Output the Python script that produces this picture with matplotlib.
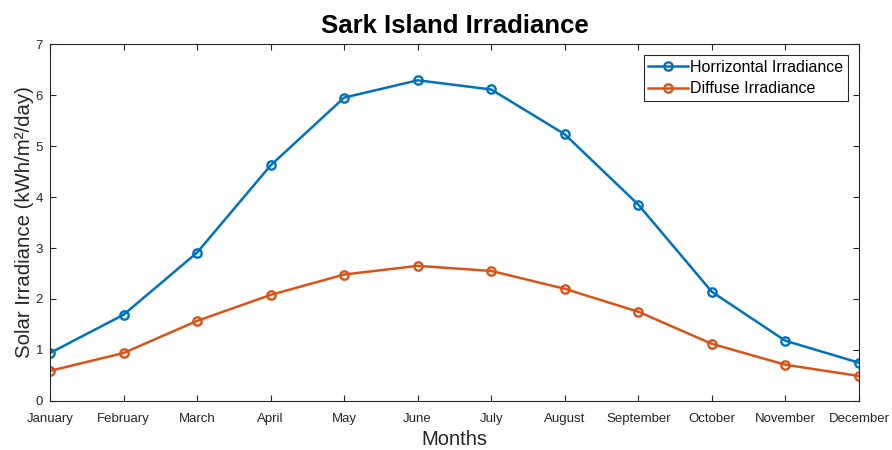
import matplotlib
matplotlib.use('Agg')
import matplotlib.pyplot as plt
import numpy as np

plt.rcParams['font.family'] = ['Liberation Sans', 'DejaVu Sans']

# Data
months = ['January', 'February', 'March', 'April', 'May', 'June', 'July',
          'August', 'September', 'October', 'November', 'December']
horizontal = [0.94, 1.69, 2.91, 4.62, 5.95, 6.29, 6.11, 5.23, 3.85, 2.14, 1.18, 0.75]
diffuse = [0.59, 0.94, 1.57, 2.08, 2.48, 2.65, 2.55, 2.20, 1.75, 1.12, 0.71, 0.49]

blue = '#0072BD'
orange = '#D95319'
axis_col = '#262626'

fig = plt.figure(figsize=(8.92, 4.5), dpi=100)
ax = fig.add_axes([0.056, 0.109, 0.907, 0.793])

x = np.arange(1, len(months) + 1)
ax.plot(x, horizontal, '-o', color=blue, lw=1.8, ms=6, mfc='none', mew=1.7,
        label='Horrizontal Irradiance')
ax.plot(x, diffuse, '-o', color=orange, lw=1.8, ms=6, mfc='none', mew=1.7,
        label='Diffuse Irradiance')

ax.set_xlim(1, 12)
ax.set_ylim(0, 7)
ax.set_xticks(x)
ax.set_xticklabels(months)
ax.set_yticks(range(0, 8))

ax.tick_params(direction='in', top=True, right=True, labelsize=9.5,
               colors=axis_col, length=4)
ax.tick_params(axis='x', pad=8.5)
ax.tick_params(axis='y', pad=5)
for s in ax.spines.values():
    s.set_color(axis_col)
    s.set_linewidth(0.8)

ax.set_title('Sark Island Irradiance', fontsize=18.5, fontweight='bold', pad=8)
ax.set_xlabel('Months', fontsize=14.5, color=axis_col, labelpad=3.5)
ax.set_ylabel('Solar Irradiance (kWh/m²/day)', fontsize=14.7, color=axis_col, labelpad=1)

leg = ax.legend(loc='upper right', fontsize=11.5, fancybox=False, framealpha=1,
                edgecolor=axis_col, handlelength=2.5, borderpad=0.3,
                labelspacing=0.4, handletextpad=0.1, borderaxespad=0.7)
leg.get_frame().set_linewidth(0.8)

fig.savefig('out.png', dpi=100)
